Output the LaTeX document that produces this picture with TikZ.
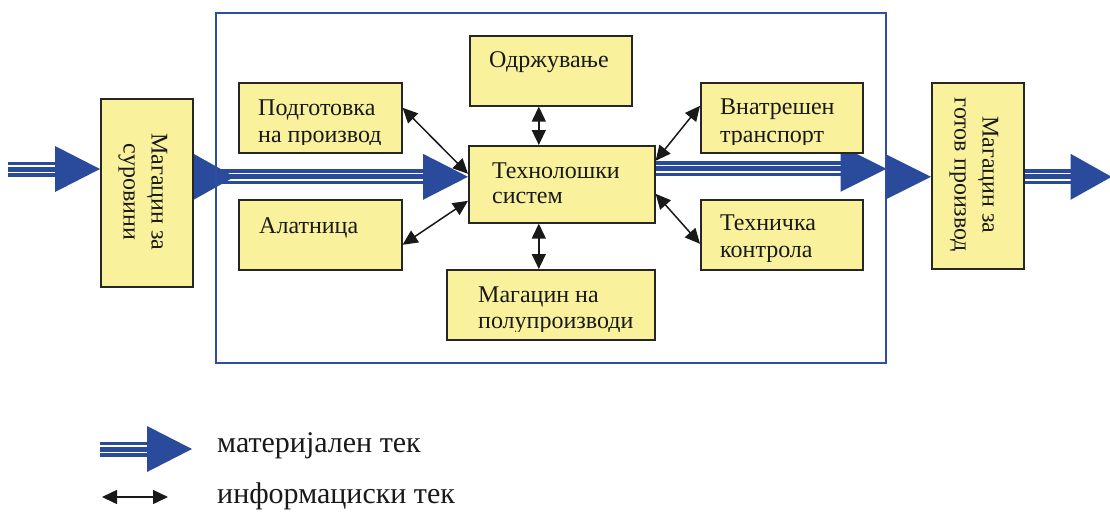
\documentclass[tikz,border=0pt]{standalone}
\usepackage{fontspec}
\setmainfont{Liberation Serif}
\usetikzlibrary{arrows.meta,calc,backgrounds}
\definecolor{boxyellow}{RGB}{249,241,155}
\definecolor{flowblue}{RGB}{42,74,156}
\definecolor{frameblue}{RGB}{48,78,160}
\begin{document}
\begin{tikzpicture}[x=1pt,y=-1pt,
  box/.style={draw=black!85, line width=1.6pt, fill=boxyellow, inner sep=0pt, anchor=north west},
  frame/.style={draw=frameblue, line width=1.5pt, inner sep=0pt, anchor=north west},
  boxtext/.style={inner sep=0pt, anchor=base west, font=\fontsize{24}{28}\selectfont, text=black!90},
  sidetext/.style={inner sep=0pt, rotate=-90, align=center, font=\fontsize{24}{28}\selectfont, text=black!90},
  legendtext/.style={inner sep=0pt, anchor=base west, font=\fontsize{30}{34}\selectfont, text=black!90},
  info/.style={draw=black!90, line width=1.5pt, {Triangle[length=15pt,width=14pt]}-{Triangle[length=15pt,width=14pt]}},
  flowshaft/.style={draw=flowblue, line width=15pt,
    postaction={draw=white, line width=8.4pt},
    postaction={draw=flowblue, line width=5pt}},
  flowhead/.pic={\fill[flowblue] (-#1,-23) -- (0,0) -- (-#1,23) -- cycle;}
]
\useasboundingbox (0,0) rectangle (1110,512);

% plant boundary
\node[frame, minimum width=670pt, minimum height=350pt] (plant) at (215,12) {};

% stores outside the plant
\node[box, minimum width=92pt, minimum height=188pt] (rawstore) at (100,98) {};
\node[box, minimum width=92pt, minimum height=186pt] (goodstore) at (931,82) {};

% units inside the plant
\node[box, minimum width=163pt, minimum height=70pt] (prep) at (238,82) {};
\node[box, minimum width=162pt, minimum height=70pt] (maint) at (469,35) {};
\node[box, minimum width=186pt, minimum height=77pt] (tech) at (468,145) {};
\node[box, minimum width=162pt, minimum height=70pt] (transport) at (700,82) {};
\node[box, minimum width=163pt, minimum height=70pt] (tool) at (238,199) {};
\node[box, minimum width=162pt, minimum height=70pt] (control) at (700,199) {};
\node[box, minimum width=208pt, minimum height=70pt] (semi) at (446,269) {};

% box labels, kept inside the text area of each box
\begin{scope}
  \clip ([xshift=1pt,yshift=9pt]prep.south west) rectangle ([xshift=-1pt,yshift=-1pt]prep.north east);
  \node[boxtext] (prepA) at (258,115) {Подготовка};
  \node[boxtext] (prepB) at (258,142) {на производ};
\end{scope}
\begin{scope}
  \clip ([xshift=1pt,yshift=9pt]maint.south west) rectangle ([xshift=-1pt,yshift=-1pt]maint.north east);
  \node[boxtext] (maintA) at (489,67) {Одржување};
\end{scope}
\begin{scope}
  \clip ([xshift=1pt,yshift=9pt]tech.south west) rectangle ([xshift=-1pt,yshift=-1pt]tech.north east);
  \node[boxtext] (techA) at (492,178) {Технолошки};
  \node[boxtext] (techB) at (492,203) {систем};
\end{scope}
\begin{scope}
  \clip ([xshift=1pt,yshift=9pt]transport.south west) rectangle ([xshift=-1pt,yshift=-1pt]transport.north east);
  \node[boxtext] (transportA) at (720,114) {Внатрешен};
  \node[boxtext] (transportB) at (720,142) {транспорт};
\end{scope}
\begin{scope}
  \clip ([xshift=1pt,yshift=9pt]tool.south west) rectangle ([xshift=-1pt,yshift=-1pt]tool.north east);
  \node[boxtext] (toolA) at (259,233) {Алатница};
\end{scope}
\begin{scope}
  \clip ([xshift=1pt,yshift=9pt]control.south west) rectangle ([xshift=-1pt,yshift=-1pt]control.north east);
  \node[boxtext] (controlA) at (720,230) {Техничка};
  \node[boxtext] (controlB) at (720,257) {контрола};
\end{scope}
\begin{scope}
  \clip ([xshift=1pt,yshift=9pt]semi.south west) rectangle ([xshift=-1pt,yshift=-1pt]semi.north east);
  \node[boxtext] (semiA) at (478,302) {Магацин на};
  \node[boxtext] (semiB) at (478,328) {полупроизводи};
\end{scope}

% vertical labels of the stores
\node[sidetext] (rawtext) at (143,192) {Магацин за\\суровини};
\node[sidetext] (goodtext) at (974,175) {Магацин за\\готов производ};

% material flow
\begin{scope}[on background layer]
  % into the raw material store
  \coordinate (inS) at (8,169);
  \coordinate (inT) at (inS -| rawstore.west);
  \draw[flowshaft] (inS) -- ([xshift=-20pt]inT);
  \pic at (inT) {flowhead=45};
  % raw material store to the technological system
  \coordinate (t1) at ([yshift=7.5pt]tech.west);
  \coordinate (r0) at (rawstore.east |- t1);
  \draw[flowshaft] (r0) -- ([xshift=-20pt]t1);
  \pic at ([xshift=41pt]r0) {flowhead=41};
  \pic at (t1) {flowhead=45};
  % technological system to the finished goods store
  \coordinate (t2) at ([yshift=15.5pt]tech.east);
  \coordinate (f1) at (t2 -| plant.east);
  \draw[flowshaft] (t2) -- ([xshift=-20pt]f1);
  \pic at (f1) {flowhead=46};
  \pic at ([yshift=-1pt]goodstore.west) {flowhead=46};
  % out of the finished goods store
  \coordinate (o0) at ([yshift=-1pt]goodstore.east);
  \coordinate (oT) at ([xshift=87pt]o0);
  \draw[flowshaft] (o0) -- ([xshift=-20pt]oT);
  \pic at (oT) {flowhead=41};
\end{scope}

% information flow
\draw[info] ([yshift=10pt]prep.east) -- ([yshift=10.5pt]tech.west);
\draw[info] ([yshift=-10pt]tool.east) -- ([yshift=-16.5pt]tech.west);
\draw[info] ([yshift=12pt]transport.west) -- ([yshift=23.5pt]tech.east);
\draw[info] ([yshift=-9pt]control.west) -- ([yshift=-9.5pt]tech.east);
\draw[info] ([xshift=-12pt]maint.south) -- ([xshift=-12pt]maint.south |- tech.north);
\draw[info] ([xshift=-12pt]semi.north) -- ([xshift=-12pt]semi.north |- tech.south);

% legend
\coordinate (lgS) at (100,449);
\coordinate (lgT) at (192,449);
\draw[flowshaft] (lgS) -- ([xshift=-20pt]lgT);
\pic at (lgT) {flowhead=45};
\node[legendtext] (lgmat) at (217,452) {материјален тек};
\coordinate (liS) at (102,497);
\coordinate (liE) at (168,497);
\draw[info] (liS) -- (liE);
\node[legendtext] (lginfo) at (217,503) {информациски тек};
\end{tikzpicture}
\end{document}
